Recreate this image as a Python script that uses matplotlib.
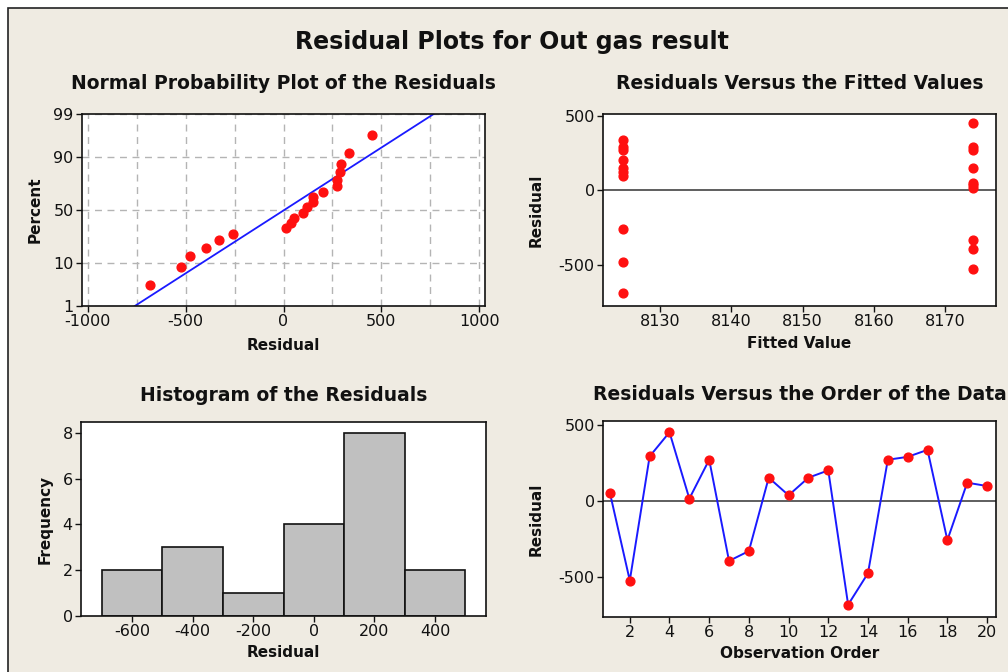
import matplotlib
matplotlib.use("Agg")
import matplotlib.pyplot as plt
import matplotlib.patches as patches
import numpy as np
from statistics import NormalDist

# residuals in observation order
obs_order = list(range(1, 21))
residuals = [52, -524, 293, 452, 15, 271, -395, -330, 153, 37,
             153, 201, -683, -476, 271, 290, 336, -258, 120, 98]
fitted = [8173.9] * 10 + [8124.85] * 10

hist_bins = [-700, -500, -300, -100, 100, 300, 500]
pct_ticks = [1, 10, 50, 90, 99]

W, H = 1008, 672
BG = "#efebe2"
RED = "#ff1010"

plt.rcParams["font.family"] = "DejaVu Sans"
plt.rcParams["axes.unicode_minus"] = False
fig = plt.figure(figsize=(W / 100, H / 100), dpi=100)
fig.patch.set_facecolor("white")
fig.patches.append(patches.Rectangle((8 / W, -0.1), 1.2, 1.1 - 8 / H, transform=fig.transFigure,
                                     facecolor=BG, edgecolor="#222222", lw=1.2, zorder=-5))


def box(l, t, r, b):
    return fig.add_axes([l / W, 1 - b / H, (r - l) / W, (b - t) / H])


def style(ax):
    ax.set_facecolor("white")
    for s in ax.spines.values():
        s.set_color("#111111")
        s.set_linewidth(1.2)
    ax.tick_params(direction="out", length=4, width=1, labelsize=11.5, colors="#111111", pad=2)


fig.text(0.508, 0.938, "Residual Plots for Out gas result", ha="center", va="center",
         fontsize=17, fontweight="bold", color="#111111")

top_kw = dict(fontsize=13.5, fontweight="bold", color="#111111", pad=18)
bot_kw = dict(fontsize=13.5, fontweight="bold", color="#111111", pad=15)
lab_kw = dict(fontsize=11, fontweight="bold", color="#111111")

# normal probability plot
nd = NormalDist()
n = len(residuals)
srt = np.sort(residuals)
pp = [(i - 0.3) / (n + 0.4) for i in range(1, n + 1)]
zz = [nd.inv_cdf(p) for p in pp]
mu = np.mean(residuals)
sd = np.std(residuals, ddof=1)
zlo, zhi = nd.inv_cdf(0.01), nd.inv_cdf(0.99)

ax1 = box(82, 114, 485, 306)
style(ax1)
zl = np.array([zlo, zhi])
ax1.plot(mu + sd * zl, zl, color="#1a1aff", lw=1.3, zorder=2)
ax1.scatter(srt, zz, s=40, color=RED, zorder=3)
ax1.set_xlim(-1030, 1030)
ax1.set_ylim(zlo, zhi)
ax1.set_xticks([-1000, -500, 0, 500, 1000])
ax1.set_xticks(np.arange(-1000, 1001, 250), minor=True)
ax1.set_yticks([nd.inv_cdf(p / 100) for p in pct_ticks])
ax1.set_yticklabels([str(p) for p in pct_ticks])
ax1.tick_params(axis="x", which="minor", length=0)
ax1.grid(True, which="both", color="#b4b4b4", ls=(0, (5, 4)), lw=1)
ax1.set_axisbelow(True)
ax1.set_title("Normal Probability Plot of the Residuals", **top_kw)
ax1.set_xlabel("Residual", labelpad=6, **lab_kw)
ax1.set_ylabel("Percent", labelpad=8, **lab_kw)

# residuals vs fits
ax2 = box(603, 114, 996, 306)
style(ax2)
ax2.axhline(0, color="#333333", lw=1.1, zorder=1)
ax2.scatter(fitted, residuals, s=40, color=RED, zorder=3)
ax2.set_xlim(8122, 8177.1)
ax2.set_ylim(-773, 511)
ax2.set_xticks([8130, 8140, 8150, 8160, 8170])
ax2.set_yticks([-500, 0, 500])
ax2.set_title("Residuals Versus the Fitted Values", **top_kw)
ax2.set_xlabel("Fitted Value", labelpad=5, **lab_kw)
ax2.set_ylabel("Residual", labelpad=11, **lab_kw)

# histogram
ax3 = box(81, 422, 486, 616)
style(ax3)
ax3.hist(residuals, bins=hist_bins, color="#c0c0c0", edgecolor="#111111", lw=1.2)
ax3.set_xlim(-768, 568)
ax3.set_ylim(0, 8.48)
ax3.set_xticks([-600, -400, -200, 0, 200, 400])
ax3.set_yticks([0, 2, 4, 6, 8])
ax3.set_title("Histogram of the Residuals", **bot_kw)
ax3.set_xlabel("Residual", labelpad=4, **lab_kw)
ax3.set_ylabel("Frequency", labelpad=7, **lab_kw)

# residuals vs order
ax4 = box(603, 421, 996, 617)
style(ax4)
ax4.axhline(0, color="#333333", lw=1.1, zorder=1)
ax4.plot(obs_order, residuals, color="#1a1aff", lw=1.4, zorder=2)
ax4.scatter(obs_order, residuals, s=40, color=RED, zorder=3)
ax4.set_xlim(0.65, 20.45)
ax4.set_ylim(-764, 526)
ax4.set_xticks(range(2, 21, 2))
ax4.set_yticks([-500, 0, 500])
ax4.set_title("Residuals Versus the Order of the Data", **bot_kw)
ax4.set_xlabel("Observation Order", labelpad=4, **lab_kw)
ax4.set_ylabel("Residual", labelpad=11, **lab_kw)

fig.savefig("out.png", dpi=100, facecolor=fig.get_facecolor())
